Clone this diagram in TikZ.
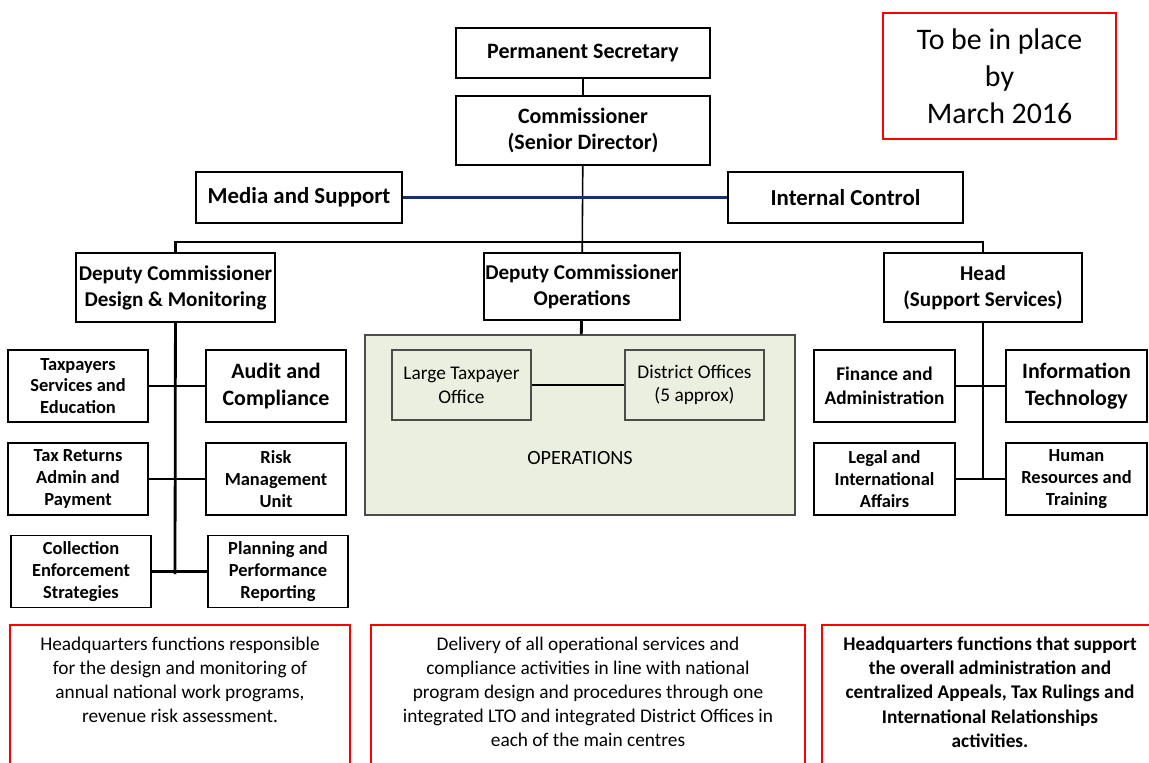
\documentclass[tikz,border=0pt]{standalone}
\usepackage{fontspec}
\setmainfont{Carlito}
\usetikzlibrary{positioning}

\definecolor{opsfill}{RGB}{235,239,223}
\definecolor{linkblue}{RGB}{25,50,110}

\tikzset{
  orgbox/.style={draw, line width=1.1pt, align=center, inner sep=0pt,
    font=\bfseries\fontsize{12.5}{15}\selectfont},
  unitbox/.style={orgbox, minimum width=2.8cm, minimum height=1.44cm,
    font=\bfseries\fontsize{10.5}{12.4}\selectfont},
  bigunit/.style={unitbox, font=\bfseries\fontsize{12.5}{15}\selectfont},
  note/.style={align=center, anchor=north, font=\fontsize{11}{13.7}\selectfont},
  wire/.style={line width=1.6pt},
}

\begin{document}
\begin{tikzpicture}[x=0.02cm, y=-0.02cm]
  \useasboundingbox (0,0) rectangle (1149,762);

  % top of the chart
  \node[orgbox, minimum width=5.08cm, minimum height=1.0cm] (perm) at (583,53) {Permanent Secretary};
  \node[orgbox, minimum width=5.08cm, minimum height=1.38cm] (comm) at (583,130.5) {Commissioner\\(Senior Director)};
  \node[orgbox, minimum width=4.12cm, minimum height=1.02cm, font=\bfseries\fontsize{13}{15}\selectfont] (media) at (299,197.5) {Media and Support};
  \node[orgbox, minimum width=4.7cm, minimum height=1.02cm, font=\bfseries\fontsize{13}{15}\selectfont] (intctrl) at (845.5,197.5) {Internal Control};
  \node[draw=red, line width=1.2pt, minimum width=4.66cm, minimum height=2.52cm, align=center,
    font=\fontsize{17}{21}\selectfont] (deadline) at (999.5,76) {To be in place\\by\\March 2016};

  % deputies
  \node[orgbox, minimum width=3.98cm, minimum height=1.38cm, font=\bfseries\fontsize{12}{14.8}\selectfont] (dcdm) at (175.5,287.5) {Deputy Commissioner\\Design \& Monitoring};
  \node[orgbox, minimum width=3.92cm, minimum height=1.34cm, font=\bfseries\fontsize{12}{14.8}\selectfont] (dcops) at (582,286.5) {Deputy Commissioner\\Operations};
  \node[orgbox, minimum width=3.96cm, minimum height=1.38cm, font=\bfseries\fontsize{12}{14.8}\selectfont] (head) at (983,287.5) {Head\\(Support Services)};

  % operations block
  \node[draw=black!70, fill=opsfill, line width=0.8pt, minimum width=8.6cm, minimum height=3.6cm] (ops) at (580,425) {};
  \node[draw=black!70, line width=0.6pt, minimum width=2.78cm, minimum height=1.4cm, align=center,
    font=\fontsize{11}{13.5}\selectfont] (lto) at (461.5,385) {Large Taxpayer\\Office};
  \node[draw=black!70, line width=0.6pt, minimum width=2.78cm, minimum height=1.4cm, align=center,
    font=\fontsize{11}{13.5}\selectfont] (district) at (694.5,385) {District Offices\\(5 approx)};
  \node[font=\fontsize{11.5}{14}\selectfont] (opslabel) at (580,458) {OPERATIONS};

  % design and monitoring units
  \node[unitbox] (tse) at (78,386) {Taxpayers\\Services and\\Education};
  \node[bigunit] (audit) at (276,386) {Audit and\\Compliance};
  \node[unitbox] (tra) at (78,479) {Tax Returns\\Admin and\\Payment};
  \node[unitbox] (risk) at (276,479) {Risk\\Management\\Unit};
  \node[unitbox] (ces) at (81,571.5) {Collection\\Enforcement\\Strategies};
  \node[unitbox] (ppr) at (278,571.5) {Planning and\\Performance\\Reporting};

  % support services units
  \node[unitbox, minimum width=2.82cm, font=\bfseries\fontsize{11}{13.5}\selectfont] (fa) at (884.5,386) {Finance and\\Administration};
  \node[bigunit, minimum width=2.82cm] (it) at (1076.5,386) {Information\\Technology};
  \node[unitbox, minimum width=2.82cm] (lia) at (884.5,479) {Legal and\\International\\Affairs};
  \node[unitbox, minimum width=2.82cm] (hrt) at (1076.5,479) {Human\\Resources and\\Training};

  % connectors
  \coordinate (bus) at (583,242);
  \coordinate (leftend) at (175,574);
  \coordinate (rightend) at (983,479);
  \draw[line width=0.9pt] (perm) -- (comm);
  \draw[line width=0.9pt] (comm) -- (dcops);
  \draw[line width=1.3pt, linkblue] (media) -- (intctrl);
  \draw[wire] (dcdm.north) |- (bus) -| (head.north);
  \draw[wire] (dcops) -- (ops);
  \draw[line width=0.6pt] (lto) -- (district);
  \draw[wire] (dcdm) -- (leftend);
  \draw[wire] (tse) -- (audit);
  \draw[wire] (tra) -- (risk);
  \draw[wire] (ces) -- (ppr);
  \draw[wire] (head) -- (rightend);
  \draw[wire] (fa) -- (it);
  \draw[wire] (lia) -- (hrt);

  % notes along the bottom
  \draw[red, line width=1.2pt] (10,770) |- (350,625) -- (350,770);
  \draw[red, line width=1.2pt] (371,770) |- (805,625) -- (805,770);
  \draw[red, line width=1.2pt] (822,770) |- (1160,625);
  \node[note] (dmnote) at (180,631) {Headquarters functions responsible\\for the design and monitoring of\\annual national work programs,\\revenue risk assessment.};
  \node[note] (opsnote) at (588,631) {Delivery of all operational services and\\compliance activities in line with national\\program design and procedures through one\\integrated LTO and integrated District Offices in\\each of the main centres};
  \node[note, font=\bfseries\fontsize{11}{13.7}\selectfont] (ssnote) at (990,631) {Headquarters functions that support\\the overall administration and\\centralized Appeals, Tax Rulings and\\International Relationships\\activities.};
\end{tikzpicture}
\end{document}
